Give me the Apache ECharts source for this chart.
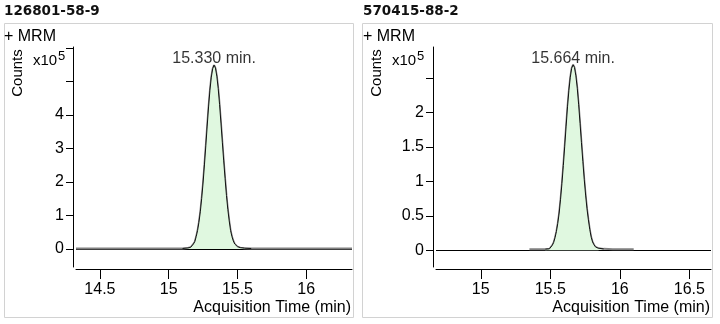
<!DOCTYPE html>
<html>
<head>
<meta charset="utf-8">
<script src="https://cdn.jsdelivr.net/npm/echarts@6/dist/echarts.min.js"></script>
<style>
  html, body { margin: 0; padding: 0; background: #fff; }
  #chart { width: 720px; height: 324px; }
</style>
</head>
<body>
<div id="chart"></div>
<script>
// ---- Compound 1: 126801-58-9 (counts in units of 1e5) ----
const titleA = '126801-58-9';
const xTicksA = [14.5, 15, 15.5, 16];
const yTicksA = [0, 1, 2, 3, 4, 5, 6];
const yLabelsA = [0, 1, 2, 3, 4];
const leadTimesA = [14.326, 14.6, 14.9, 15.05];
const leadCountsA = [0.012, 0.012, 0.013, 0.015];
const peakTimesA = [15.10, 15.14, 15.16, 15.17, 15.18, 15.19, 15.20, 15.21, 15.22, 15.23, 15.24, 15.25, 15.26, 15.27, 15.28, 15.29, 15.30, 15.31, 15.32, 15.33, 15.34, 15.35, 15.36, 15.37, 15.38, 15.39, 15.40, 15.41, 15.42, 15.43, 15.44, 15.45, 15.46, 15.47, 15.48, 15.49, 15.50, 15.52, 15.55, 15.60];
const peakCountsA = [0.015, 0.03, 0.05, 0.07, 0.15, 0.22, 0.37, 0.55, 0.80, 1.11, 1.51, 1.97, 2.51, 3.08, 3.67, 4.24, 4.74, 5.13, 5.38, 5.49, 5.40, 5.16, 4.79, 4.31, 3.76, 3.19, 2.63, 2.10, 1.60, 1.18, 0.84, 0.55, 0.37, 0.24, 0.15, 0.10, 0.07, 0.04, 0.025, 0.015];
const tailTimesA = [15.7, 15.9, 16.1, 16.333];
const tailCountsA = [0.013, 0.012, 0.012, 0.012];

// ---- Compound 2: 570415-88-2 (counts in units of 1e5) ----
const titleB = '570415-88-2';
const xTicksB = [15, 15.5, 16, 16.5];
const yTicksB = [0, 0.5, 1, 1.5, 2, 2.5];
const yLabelsB = [0, 0.5, 1, 1.5, 2];
const leadTimesB = [15.35, 15.42];
const leadCountsB = [0.015, 0.015];
const peakTimesB = [15.464, 15.494, 15.504, 15.514, 15.524, 15.534, 15.544, 15.554, 15.564, 15.574, 15.584, 15.594, 15.604, 15.614, 15.624, 15.634, 15.644, 15.654, 15.664, 15.674, 15.684, 15.694, 15.704, 15.714, 15.724, 15.734, 15.744, 15.754, 15.764, 15.774, 15.784, 15.794, 15.804, 15.814, 15.824, 15.844, 15.884];
const peakCountsB = [0.015, 0.02, 0.03, 0.07, 0.11, 0.18, 0.27, 0.39, 0.54, 0.74, 0.97, 1.23, 1.51, 1.80, 2.08, 2.32, 2.51, 2.64, 2.69, 2.65, 2.53, 2.35, 2.11, 1.84, 1.56, 1.29, 1.03, 0.80, 0.60, 0.44, 0.30, 0.19, 0.12, 0.08, 0.05, 0.03, 0.02];
const tailTimesB = [15.95, 16.10];
const tailCountsB = [0.015, 0.015];

const FONT = '"Liberation Sans", Arial, sans-serif';

function pairs(xs, ys) { return xs.map((x, i) => [x, ys[i]]); }

const panels = [
  {
    title: titleA, dx: 0,
    grid: { left: 76, top: 47, width: 276, height: 220 },
    xRange: [14.326, 16.333], yRange: [-0.537, 6.03],
    xTicks: xTicksA, yTicks: yTicksA, yLabels: yLabelsA,
    trace: pairs(leadTimesA.concat(peakTimesA, tailTimesA), leadCountsA.concat(peakCountsA, tailCountsA)),
    peak: pairs(peakTimesA, peakCountsA),
    box: { x: 4.5, width: 349 }
  },
  {
    title: titleB, dx: 359,
    grid: { left: 436, top: 47, width: 275, height: 220 },
    xRange: [14.678, 16.656], yRange: [-0.243, 2.948],
    xTicks: xTicksB, yTicks: yTicksB, yLabels: yLabelsB,
    trace: pairs(leadTimesB.concat(peakTimesB, tailTimesB), leadCountsB.concat(peakCountsB, tailCountsB)),
    peak: pairs(peakTimesB, peakCountsB),
    box: { x: 362.5, width: 350 }
  }
];

const grids = [], xAxes = [], yAxes = [], series = [], graphics = [];

panels.forEach((p, i) => {
  grids.push(Object.assign({ outerBoundsMode: 'none', containLabel: false }, p.grid));
  xAxes.push({
    type: 'value', gridIndex: i, min: p.xRange[0], max: p.xRange[1], offset: 2,
    axisLine: { show: true, onZero: false, lineStyle: { color: '#000', width: 1 } },
    axisTick: { show: true, length: 10, lineStyle: { color: '#000' }, customValues: p.xTicks },
    axisLabel: { show: true, margin: 13, color: '#000', fontFamily: FONT, fontSize: 16, customValues: p.xTicks, showMinLabel: true, showMaxLabel: true },
    splitLine: { show: false }
  });
  yAxes.push({
    type: 'value', gridIndex: i, min: p.yRange[0], max: p.yRange[1], offset: 3,
    axisLine: { show: true, onZero: false, lineStyle: { color: '#000', width: 1 } },
    axisTick: { show: true, length: 7, lineStyle: { color: '#000' }, customValues: p.yTicks },
    axisLabel: { show: true, margin: 9, color: '#000', fontFamily: FONT, fontSize: 16, customValues: p.yLabels },
    splitLine: { show: false }
  });

  // full acquired trace, with a zero reference line underneath
  series.push({
    type: 'line', xAxisIndex: i, yAxisIndex: i, data: p.trace, z: 2,
    showSymbol: false, symbol: 'none', silent: true, animation: false,
    lineStyle: { color: '#808080', width: 2 },
    markLine: {
      z: 1, silent: true, symbol: 'none', animation: false,
      label: { show: false },
      lineStyle: { color: '#000', width: 1, type: 'solid' },
      data: [{ yAxis: 0 }]
    }
  });
  // integrated peak
  series.push({
    type: 'line', xAxisIndex: i, yAxisIndex: i, data: p.peak, z: 3,
    showSymbol: false, symbol: 'none', silent: true, animation: false,
    lineStyle: { color: '#111', width: 1 },
    areaStyle: { color: '#e0f8e0', opacity: 1 }
  });
  // retention-time label at the apex
  let apex = p.peak[0];
  p.peak.forEach(d => { if (d[1] > apex[1]) apex = d; });
  series.push({
    type: 'scatter', xAxisIndex: i, yAxisIndex: i, data: [apex], z: 4,
    symbolSize: 1, itemStyle: { color: 'rgba(0,0,0,0)' }, silent: true, animation: false,
    label: {
      show: true, position: 'top', distance: -2,
      formatter: (q) => q.value[0].toFixed(3) + ' min.',
      color: '#000', fontFamily: FONT, fontSize: 16
    }
  });

  const dx = p.dx;
  graphics.push(
    { type: 'rect', shape: { x: p.box.x, y: 23.5, width: p.box.width, height: 294 },
      style: { fill: 'none', stroke: '#d2d2d2', lineWidth: 1 }, silent: true },
    { type: 'text', x: 4 + dx, y: 11.5,
      style: { text: p.title, fill: '#111', font: 'bold 13.5px "DejaVu Sans", Verdana, sans-serif', verticalAlign: 'middle' } },
    { type: 'text', x: 4 + dx, y: 37,
      style: { text: '+ MRM', fill: '#000', font: '16px ' + FONT, verticalAlign: 'middle' } },
    { type: 'text', x: 17.5 + dx, y: 73, rotation: Math.PI / 2,
      style: { text: 'Counts', fill: '#000', font: '15px ' + FONT, align: 'center', verticalAlign: 'middle' } },
    { type: 'text', x: 33 + dx, y: 61,
      style: { text: 'x10', fill: '#000', font: '15px ' + FONT, verticalAlign: 'middle' } },
    { type: 'text', x: 58 + dx, y: 56.5,
      style: { text: '5', fill: '#000', font: '13px ' + FONT, verticalAlign: 'middle' } },
    { type: 'text', x: 351 + dx, y: 308,
      style: { text: 'Acquisition Time (min)', fill: '#000', font: '16px ' + FONT, align: 'right', verticalAlign: 'middle' } }
  );
});

const chart = echarts.init(document.getElementById('chart'), null, { renderer: 'canvas' });
chart.setOption({
  animation: false,
  backgroundColor: '#fff',
  textStyle: { fontFamily: FONT },
  grid: grids,
  xAxis: xAxes,
  yAxis: yAxes,
  series: series,
  graphic: graphics
});
</script>
</body>
</html>
